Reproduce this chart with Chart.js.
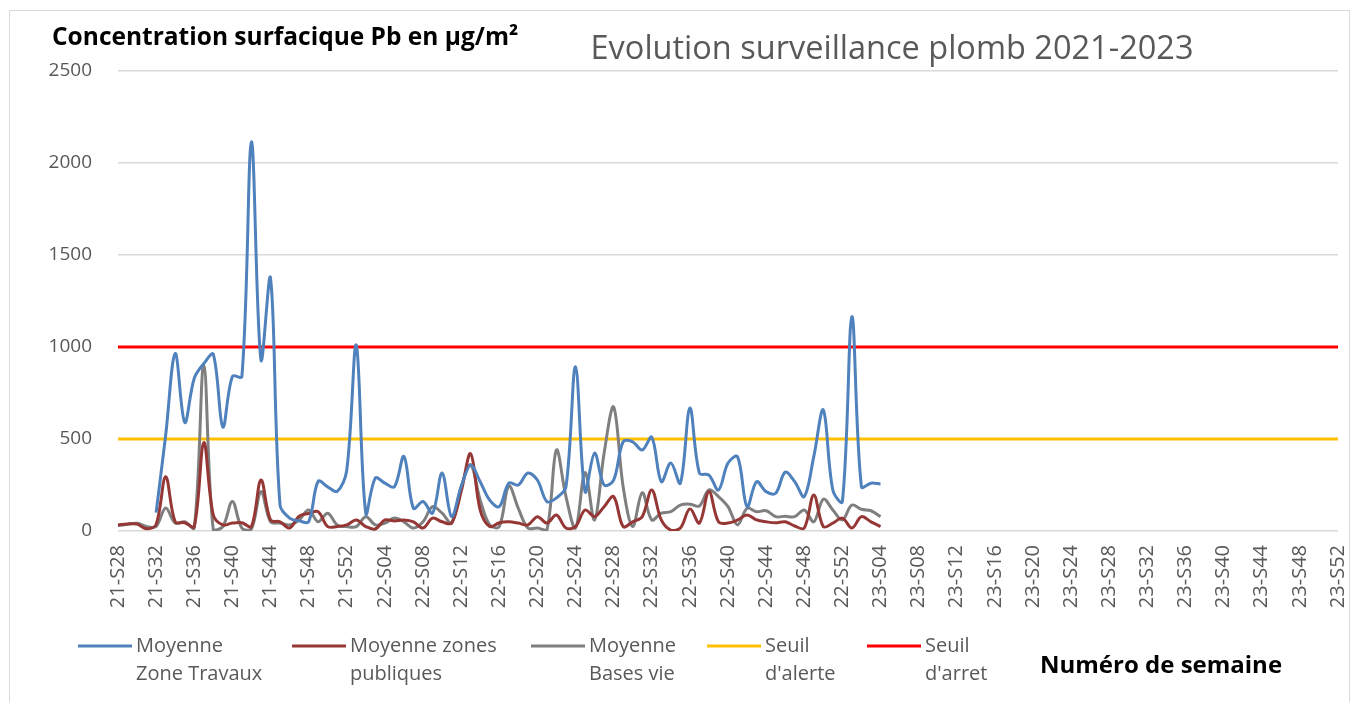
<!DOCTYPE html>
<html>
<head>
<meta charset="utf-8">
<script src="https://cdn.jsdelivr.net/npm/chart.js@4.4.1/dist/chart.umd.min.js"></script>
<style>
  html, body { margin: 0; padding: 0; background: #fff; }
  #wrap { width: 1357px; height: 702px; }
</style>
</head>
<body>
<div id="wrap"><canvas id="chart" width="1357" height="702"></canvas></div>
<script>
// Semaines : 2021 S28 -> 2023 S52
const periods = [
  { year: '21', from: 28, to: 52 },
  { year: '22', from: 1, to: 52 },
  { year: '23', from: 1, to: 52 }
];
const weeks = [];
periods.forEach(p => {
  for (let w = p.from; w <= p.to; w++) weeks.push(p.year + '-S' + String(w).padStart(2, '0'));
});

// valeurs (µg/m²), 21-S28 -> 23-S04
const zoneTravaux = [null, null, null, null,
  100, 520, 965, 590, 830, 910, 960, 565, 840, 840, 2115, 930, 1375, 140, 70, 55,
  50, 270, 240, 215, 330, 1010, 95, 288, 260, 240, 405, 123, 160, 97, 315, 78,
  240, 358, 268, 168, 132, 260, 250, 315, 277, 160, 180, 240, 893, 214, 423, 250,
  277, 485, 485, 440, 510, 268, 369, 260, 668, 315, 304, 223, 369, 404, 132, 268,
  214, 205, 320, 268, 187, 404, 658, 223, 160, 1165, 240, 260, 255];

const zonesPubliques = [33, 38, 38, 12, 35, 295, 50, 45, 24, 480, 87, 33, 43, 45, 24, 277,
  60, 50, 16, 80, 95, 105, 24, 24, 33, 60, 24, 11, 60, 55, 60, 50, 16, 70, 50, 43,
  214, 420, 114, 24, 45, 50, 43, 33, 78, 43, 87, 16, 24, 114, 78, 132, 187, 24, 50, 78,
  223, 60, 5, 16, 120, 43, 214, 50, 43, 60, 87, 60, 50, 45, 50, 27, 16, 196, 24, 43,
  70, 16, 78, 50, 24];

const basesVie = [30, 36, 42, 24, 25, 125, 43, 50, 16, 902, 5, 24, 160, 16, 11, 214,
  50, 43, 33, 60, 114, 50, 97, 33, 24, 24, 78, 33, 43, 70, 50, 16, 50, 132, 97, 43,
  240, 360, 168, 33, 24, 245, 123, 16, 16, 5, 440, 187, 16, 317, 60, 423, 674, 240, 24, 208,
  60, 97, 105, 141, 146, 136, 223, 187, 132, 33, 123, 105, 110, 78, 80, 78, 114, 50, 173, 114,
  60, 141, 118, 110, 78];

const seuilAlerte = 500;
const seuilArret = 1000;

const yTicks = [0, 500, 1000, 1500, 2000, 2500];

const seriesNames = [
  ['Moyenne', 'Zone Travaux'],
  ['Moyenne zones', 'publiques'],
  ['Moyenne', 'Bases vie'],
  ['Seuil', "d'alerte"],
  ['Seuil', "d'arret"]
];
const seriesColors = ['#4f81bd', '#953735', '#7f7f7f', '#ffc000', '#ff0000'];

const FONT = '"Open Sans", Lato, sans-serif';

// cadre, titres et légende dessinés à la main
const decor = {
  id: 'decor',
  beforeDraw(chart) {
    const ctx = chart.ctx;
    ctx.save();
    ctx.fillStyle = '#fff';
    ctx.fillRect(0, 0, chart.width, chart.height);
    ctx.strokeStyle = '#d9d9d9';
    ctx.lineWidth = 1;
    ctx.strokeRect(9.5, 10.5, 1340, 700);
    ctx.restore();
  },
  afterDraw(chart) {
    const ctx = chart.ctx;
    ctx.save();
    ctx.textBaseline = 'middle';

    ctx.fillStyle = '#000';
    ctx.font = 'bold 24.5px ' + FONT;
    ctx.textAlign = 'left';
    ctx.fillText('Concentration surfacique Pb en µg/m²', 52, 38);

    ctx.fillStyle = '#595959';
    ctx.font = '32.5px ' + FONT;
    ctx.textAlign = 'center';
    ctx.fillText('Evolution surveillance plomb 2021-2023', 892, 50);

    ctx.fillStyle = '#000';
    ctx.font = 'bold 24px ' + FONT;
    ctx.textAlign = 'left';
    ctx.fillText('Numéro de semaine', 1040, 666);

    const legendX = [78, 292, 531, 707, 867];
    ctx.font = '20px ' + FONT;
    chart.data.datasets.forEach((ds, i) => {
      const x = legendX[i];
      ctx.strokeStyle = ds.borderColor;
      ctx.lineWidth = 3;
      ctx.beginPath();
      ctx.moveTo(x, 646);
      ctx.lineTo(x + 54, 646);
      ctx.stroke();
      ctx.fillStyle = '#595959';
      ds.label.forEach((line, k) => ctx.fillText(line, x + 58, 646 + k * 28));
    });
    ctx.restore();
  }
};

const lineDs = (i, data) => ({
  label: seriesNames[i],
  data: data,
  borderColor: seriesColors[i],
  borderWidth: 3,
  pointRadius: 0,
  tension: 0.35,
  fill: false
});

new Chart(document.getElementById('chart'), {
  type: 'line',
  data: {
    labels: weeks,
    datasets: [
      lineDs(0, zoneTravaux),
      lineDs(1, zonesPubliques),
      lineDs(2, basesVie),
      Object.assign(lineDs(3, weeks.map(() => seuilAlerte)), { tension: 0 }),
      Object.assign(lineDs(4, weeks.map(() => seuilArret)), { tension: 0 })
    ]
  },
  options: {
    responsive: false,
    animation: false,
    layout: { padding: { top: 71, right: 19, left: 0, bottom: 0 } },
    plugins: {
      legend: { display: false },
      tooltip: { enabled: false }
    },
    scales: {
      x: {
        offset: false,
        grid: { display: false },
        border: { display: false },
        afterFit(s) {
          s.height = 171;
          s.paddingLeft = 0;
          s.paddingRight = 0;
        },
        ticks: {
          autoSkip: false,
          minRotation: 90,
          maxRotation: 90,
          padding: 6,
          color: '#595959',
          font: { family: FONT, size: 20 },
          callback(v, i) { return i % 4 === 0 ? weeks[i] : ''; }
        }
      },
      y: {
        min: 0,
        max: 2500,
        afterFit(s) { s.width = 118; },
        afterBuildTicks(s) { s.ticks = yTicks.map(v => ({ value: v })); },
        border: { display: false },
        grid: { color: '#d9d9d9', lineWidth: 1.5, drawTicks: false },
        ticks: {
          padding: 26,
          color: '#595959',
          font: { family: FONT, size: 19 },
          callback(v) { return String(v); }
        }
      }
    }
  },
  plugins: [decor]
});
</script>
</body>
</html>
